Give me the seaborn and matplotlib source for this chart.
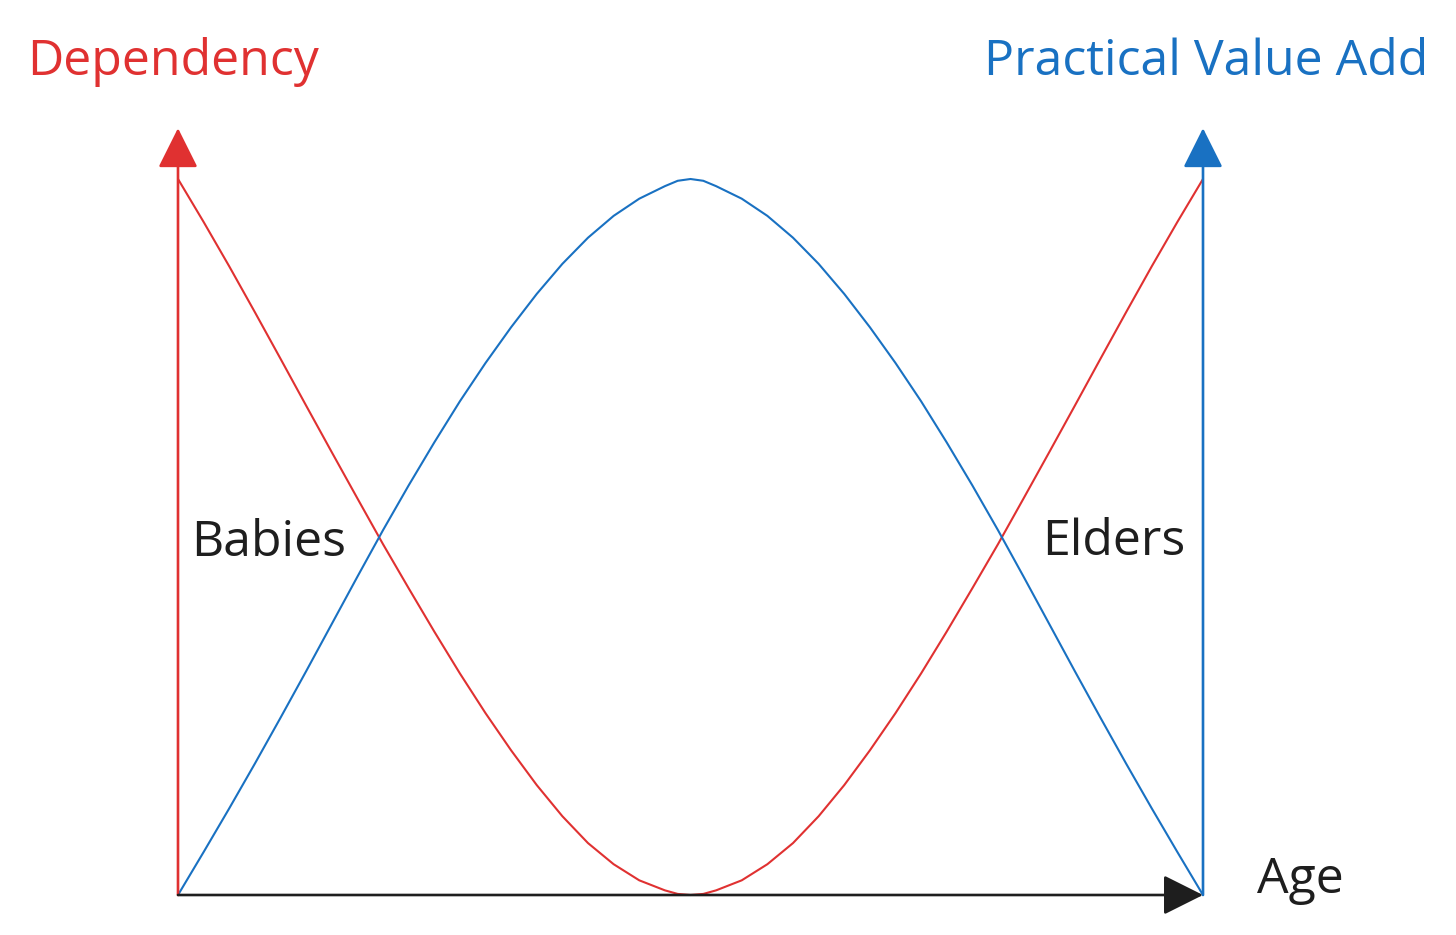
import pandas as pd
import seaborn as sns
import matplotlib.pyplot as plt

# age axis (0 = birth, 1 = old age); curve heights
age = [0.0, 0.025, 0.05, 0.075, 0.1, 0.125, 0.15, 0.175, 0.2, 0.225, 0.25, 0.275, 0.3, 0.325,
       0.35, 0.375, 0.4, 0.425, 0.45, 0.475, 0.4875, 0.5, 0.5125, 0.525, 0.55, 0.575, 0.6,
       0.625, 0.65, 0.675, 0.7, 0.725, 0.75, 0.775, 0.8, 0.825, 0.85, 0.875, 0.9, 0.925,
       0.95, 0.975, 1.0]
value_add = [0.0, 0.060, 0.121, 0.1835, 0.2475, 0.3125, 0.3785, 0.4445, 0.5095, 0.572, 0.632,
             0.6895, 0.743, 0.793, 0.8395, 0.8815, 0.918, 0.9485, 0.9725, 0.990, 0.9975, 1.0,
             0.9975, 0.990, 0.9725, 0.9485, 0.918, 0.8815, 0.8395, 0.793, 0.743, 0.6895, 0.632,
             0.572, 0.5095, 0.4445, 0.3785, 0.3125, 0.2475, 0.1835, 0.121, 0.060, 0.0]
dependency = [1.0, 0.940, 0.878, 0.814, 0.749, 0.6835, 0.6185, 0.554, 0.490, 0.4285, 0.368,
              0.3095, 0.254, 0.202, 0.1535, 0.110, 0.0725, 0.043, 0.0205, 0.0065, 0.0015, 0.0,
              0.0015, 0.0065, 0.0205, 0.043, 0.0725, 0.110, 0.1535, 0.202, 0.254, 0.3095, 0.368,
              0.4285, 0.490, 0.554, 0.6185, 0.6835, 0.749, 0.814, 0.878, 0.940, 1.0]

RED = '#e03131'
BLUE = '#1971c2'
INK = '#1e1e1e'

sns.set_style('white')
plt.rcParams['font.family'] = ['Open Sans', 'DejaVu Sans']

df = pd.DataFrame({'age': age, 'Dependency': dependency, 'Practical Value Add': value_add})

W, H = 1456, 935
fig = plt.figure(figsize=(W / 100, H / 100), dpi=100)
ax = fig.add_axes([178 / W, 40 / H, 1025 / W, 716 / H])

sns.lineplot(data=df, x='age', y='Dependency', color=RED, lw=1.5, ax=ax, clip_on=False)
sns.lineplot(data=df, x='age', y='Practical Value Add', color=BLUE, lw=1.5, ax=ax, clip_on=False)

ax.set_xlim(0, 1)
ax.set_ylim(0, 1)
ax.axis('off')

# axes drawn as arrows
def arrow(x0, y0, x1, y1, c):
    ax.annotate('', xy=(x1, y1), xytext=(x0, y0), xycoords='data', annotation_clip=False,
                arrowprops=dict(arrowstyle='-|>,head_length=25,head_width=12.5', mutation_scale=1,
                                color=c, lw=1.9, shrinkA=0, shrinkB=0))

arrow(0, 0, 0, 1.071, RED)
arrow(1, 0, 1, 1.071, BLUE)
arrow(0, 0, 1, 0, INK)

fs = 36
fig.text(27 / W, 1 - 75 / H, 'Dependency', color=RED, fontsize=fs, ha='left', va='baseline')
fig.text(1428 / W, 1 - 75 / H, 'Practical Value Add', color=BLUE, fontsize=fs, ha='right', va='baseline')
fig.text(191 / W, 1 - 556 / H, 'Babies', color=INK, fontsize=fs, ha='left', va='baseline')
fig.text(1042 / W, 1 - 555 / H, 'Elders', color=INK, fontsize=fs, ha='left', va='baseline')
fig.text(1257 / W, 1 - 893 / H, 'Age', color=INK, fontsize=fs, ha='left', va='baseline')

fig.savefig('out.png', dpi=100, facecolor='white')
